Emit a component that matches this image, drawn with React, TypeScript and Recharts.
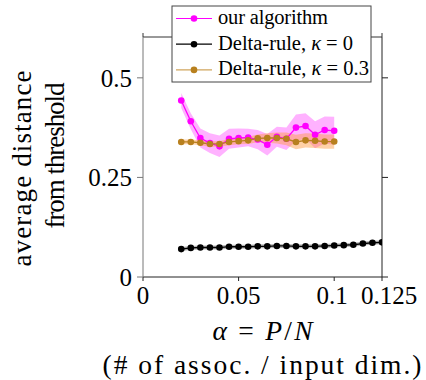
import React from 'react';
import {
  ComposedChart,
  Line,
  Area,
  XAxis,
  YAxis,
  Label,
} from 'recharts';

// Load ratio alpha = P/N at which each run was measured
const alphas = [
  0.02, 0.025, 0.03, 0.035, 0.04, 0.045, 0.05, 0.055, 0.06, 0.065, 0.07,
  0.075, 0.08, 0.085, 0.09, 0.095, 0.1, 0.105, 0.11, 0.115, 0.12, 0.125,
];

// Our algorithm: mean distance and spread (runs up to alpha = 0.1)
const ourAlgorithm = [
  0.443, 0.391, 0.349, 0.336, 0.328, 0.347, 0.349, 0.35, 0.345, 0.332, 0.352,
  0.347, 0.375, 0.379, 0.357, 0.369, 0.367,
];
const ourAlgorithmSpread = [
  0.019, 0.02, 0.024, 0.025, 0.027, 0.025, 0.024, 0.022, 0.024, 0.027, 0.025,
  0.028, 0.033, 0.032, 0.034, 0.034, 0.035,
];

// Delta rule without margin (kappa = 0), full alpha range
const deltaK0 = [
  0.07, 0.073, 0.074, 0.074, 0.074, 0.076, 0.076, 0.076, 0.077, 0.077, 0.078,
  0.078, 0.077, 0.077, 0.077, 0.078, 0.079, 0.08, 0.081, 0.084, 0.086, 0.087,
];
const deltaK0Spread = [
  0.005, 0.005, 0.005, 0.005, 0.005, 0.005, 0.005, 0.005, 0.005, 0.005, 0.005,
  0.005, 0.005, 0.005, 0.005, 0.005, 0.005, 0.005, 0.005, 0.005, 0.005, 0.005,
];

// Delta rule with margin kappa = 0.3 (runs up to alpha = 0.1)
const deltaK03 = [
  0.339, 0.339, 0.337, 0.334, 0.334, 0.339, 0.341, 0.343, 0.348, 0.349, 0.349,
  0.347, 0.339, 0.343, 0.342, 0.34, 0.34,
];
const deltaK03Spread = [
  0.006, 0.006, 0.006, 0.007, 0.007, 0.008, 0.008, 0.009, 0.01, 0.012, 0.014,
  0.016, 0.018, 0.018, 0.018, 0.018, 0.018,
];

const xTicks = [0, 0.05, 0.1, 0.125];
const xTickLabels = ['0', '0.05', '0.1', '0.125'];
const yTicks = [0, 0.25, 0.5];
const yTickLabels = ['0', '0.25', '0.5'];

const MAGENTA = '#ff00ff';
const BLACK = '#000000';
const GOLD = '#b8801e';
const FONT = '"Liberation Serif", "Times New Roman", serif';

const band = (v: number[], s: number[], i: number) =>
  v[i] === undefined ? undefined : [v[i] - s[i], v[i] + s[i]];

const data = alphas.map((a, i) => ({
  alpha: a,
  ours: ourAlgorithm[i],
  oursBand: band(ourAlgorithm, ourAlgorithmSpread, i),
  d0: deltaK0[i],
  d0Band: band(deltaK0, deltaK0Spread, i),
  d03: deltaK03[i],
  d03Band: band(deltaK03, deltaK03Spread, i),
}));

const legendItems = [
  { color: MAGENTA, line: MAGENTA, len: 110, text: <>our algorithm</> },
  {
    color: BLACK,
    line: BLACK,
    len: 135,
    text: (
      <>
        Delta-rule, <tspan fontStyle="italic">κ</tspan> = 0
      </>
    ),
  },
  {
    color: GOLD,
    line: '#d0a55c',
    len: 151,
    text: (
      <>
        Delta-rule, <tspan fontStyle="italic">κ</tspan> = 0.3
      </>
    ),
  },
];

// Boxed legend laid over the chart's top frame line
const LegendBox = () => (
  <svg
    width={202}
    height={79}
    style={{ position: 'absolute', left: 171, top: 5, display: 'block' }}
  >
    <rect x={1} y={1} width={199} height={76} fill="#fff" stroke="#444" strokeWidth={1} />
    {legendItems.map((it, i) => {
      const cy = 13.5 + i * 25.7;
      return (
        <g key={i}>
          <line x1={5} x2={41} y1={cy} y2={cy} stroke={it.line} strokeWidth={1.2} />
          <circle cx={23} cy={cy} r={3.3} fill={it.color} />
          <text
            x={47}
            y={cy + 5.5}
            fontFamily={FONT}
            fontSize={20.5}
            fill="#000"
            textLength={it.len}
            lengthAdjust="spacing"
          >
            {it.text}
          </text>
        </g>
      );
    })}
  </svg>
);

const XLabel = (props: any) => {
  const vb = props.viewBox || { x: 143, y: 277, width: 239 };
  const cx = vb.x + vb.width / 2;
  return (
    <g fontFamily={FONT} fontSize={27.5} fill="#000">
      <text x={cx} y={vb.y + 63} textAnchor="middle" textLength={100} lengthAdjust="spacing">
        <tspan fontStyle="italic">α</tspan> = <tspan fontStyle="italic">P</tspan>/<tspan fontStyle="italic">N</tspan>
      </text>
      <text x={cx - 0.5} y={vb.y + 97} textAnchor="middle" textLength={319} lengthAdjust="spacing">
        (# of assoc. / input dim.)
      </text>
    </g>
  );
};

const YLabel = () => {
  const x1 = 31;
  const y1 = 168.5;
  const x2 = 64;
  const y2 = 155.5;
  return (
    <g fontFamily={FONT} fontSize={27} fill="#000">
      <text x={x1} y={y1} textAnchor="middle" transform={`rotate(-90 ${x1} ${y1})`} textLength={196} lengthAdjust="spacing">
        average distance
      </text>
      <text x={x2} y={y2} textAnchor="middle" transform={`rotate(-90 ${x2} ${y2})`} textLength={146} lengthAdjust="spacing">
        from threshold
      </text>
    </g>
  );
};

// Bottom tick labels; the last two are nudged apart so they do not collide
const xLabelNudge: Record<string, number> = { '0.1': -2, '0.125': 7 };
const XTick = (props: any) => {
  const { x, y, payload } = props;
  const label = xTickLabels[xTicks.indexOf(payload.value)] ?? '';
  return (
    <text
      x={x + (xLabelNudge[label] ?? 0)}
      y={y}
      dy="0.71em"
      textAnchor="middle"
      fontFamily={FONT}
      fontSize={25}
      fill="#000"
    >
      {label}
    </text>
  );
};

const yTickStyle = { fontFamily: FONT, fontSize: 25, fill: '#000' };

export default function App() {
  return (
    <div style={{ position: 'absolute', left: 0, top: 0, width: 426, height: 380, background: '#fff' }}>
      <ComposedChart
        width={426}
        height={380}
        data={data}
        margin={{ top: 27, right: 34, bottom: 73, left: 83 }}
      >
        <XAxis
          xAxisId="b"
          dataKey="alpha"
          type="number"
          domain={[0, 0.125]}
          ticks={xTicks}
          height={30}
          tickSize={4}
          tickMargin={5}
          tick={<XTick />}
          stroke="#222"
          allowDataOverflow
          interval={0}
        >
          <Label content={<XLabel />} />
        </XAxis>
        <XAxis
          xAxisId="t"
          orientation="top"
          dataKey="alpha"
          type="number"
          domain={[0, 0.125]}
          ticks={xTicks}
          tickFormatter={() => ''}
          height={10}
          tickSize={4}
          stroke="#333"
          allowDataOverflow
          interval={0}
        />
        <YAxis
          yAxisId="l"
          type="number"
          domain={[0, 0.6025]}
          ticks={yTicks}
          tickFormatter={(v: number) => yTickLabels[yTicks.indexOf(v)] ?? ''}
          width={60}
          tickSize={6}
          tickMargin={5}
          tick={yTickStyle}
          stroke="#777"
          allowDataOverflow
          interval={0}
        >
          <Label content={<YLabel />} />
        </YAxis>
        <YAxis
          yAxisId="r"
          orientation="right"
          type="number"
          domain={[0, 0.6025]}
          ticks={yTicks}
          tickFormatter={() => ''}
          width={10}
          tickSize={6}
          stroke="#222"
          allowDataOverflow
          interval={0}
        />

        <Area xAxisId="b" yAxisId="l" dataKey="oursBand" type="linear" stroke="none" fill={MAGENTA} fillOpacity={0.3} isAnimationActive={false} legendType="none" />
        <Area xAxisId="b" yAxisId="l" dataKey="d03Band" type="linear" stroke="none" fill="#ff9a3c" fillOpacity={0.45} isAnimationActive={false} legendType="none" />
        <Area xAxisId="b" yAxisId="l" dataKey="d0Band" type="linear" stroke="none" fill="#000" fillOpacity={0.28} isAnimationActive={false} legendType="none" />

        <Line xAxisId="b" yAxisId="l" dataKey="ours" type="linear" stroke={MAGENTA} strokeWidth={1.3} dot={{ r: 3.3, fill: MAGENTA, stroke: 'none' }} isAnimationActive={false} />
        <Line xAxisId="b" yAxisId="l" dataKey="d0" type="linear" stroke={BLACK} strokeWidth={1.3} dot={{ r: 3.3, fill: BLACK, stroke: 'none' }} isAnimationActive={false} />
        <Line xAxisId="b" yAxisId="l" dataKey="d03" type="linear" stroke={GOLD} strokeWidth={1.3} dot={{ r: 3.3, fill: GOLD, stroke: 'none' }} isAnimationActive={false} />
      </ComposedChart>
      <LegendBox />
    </div>
  );
}
